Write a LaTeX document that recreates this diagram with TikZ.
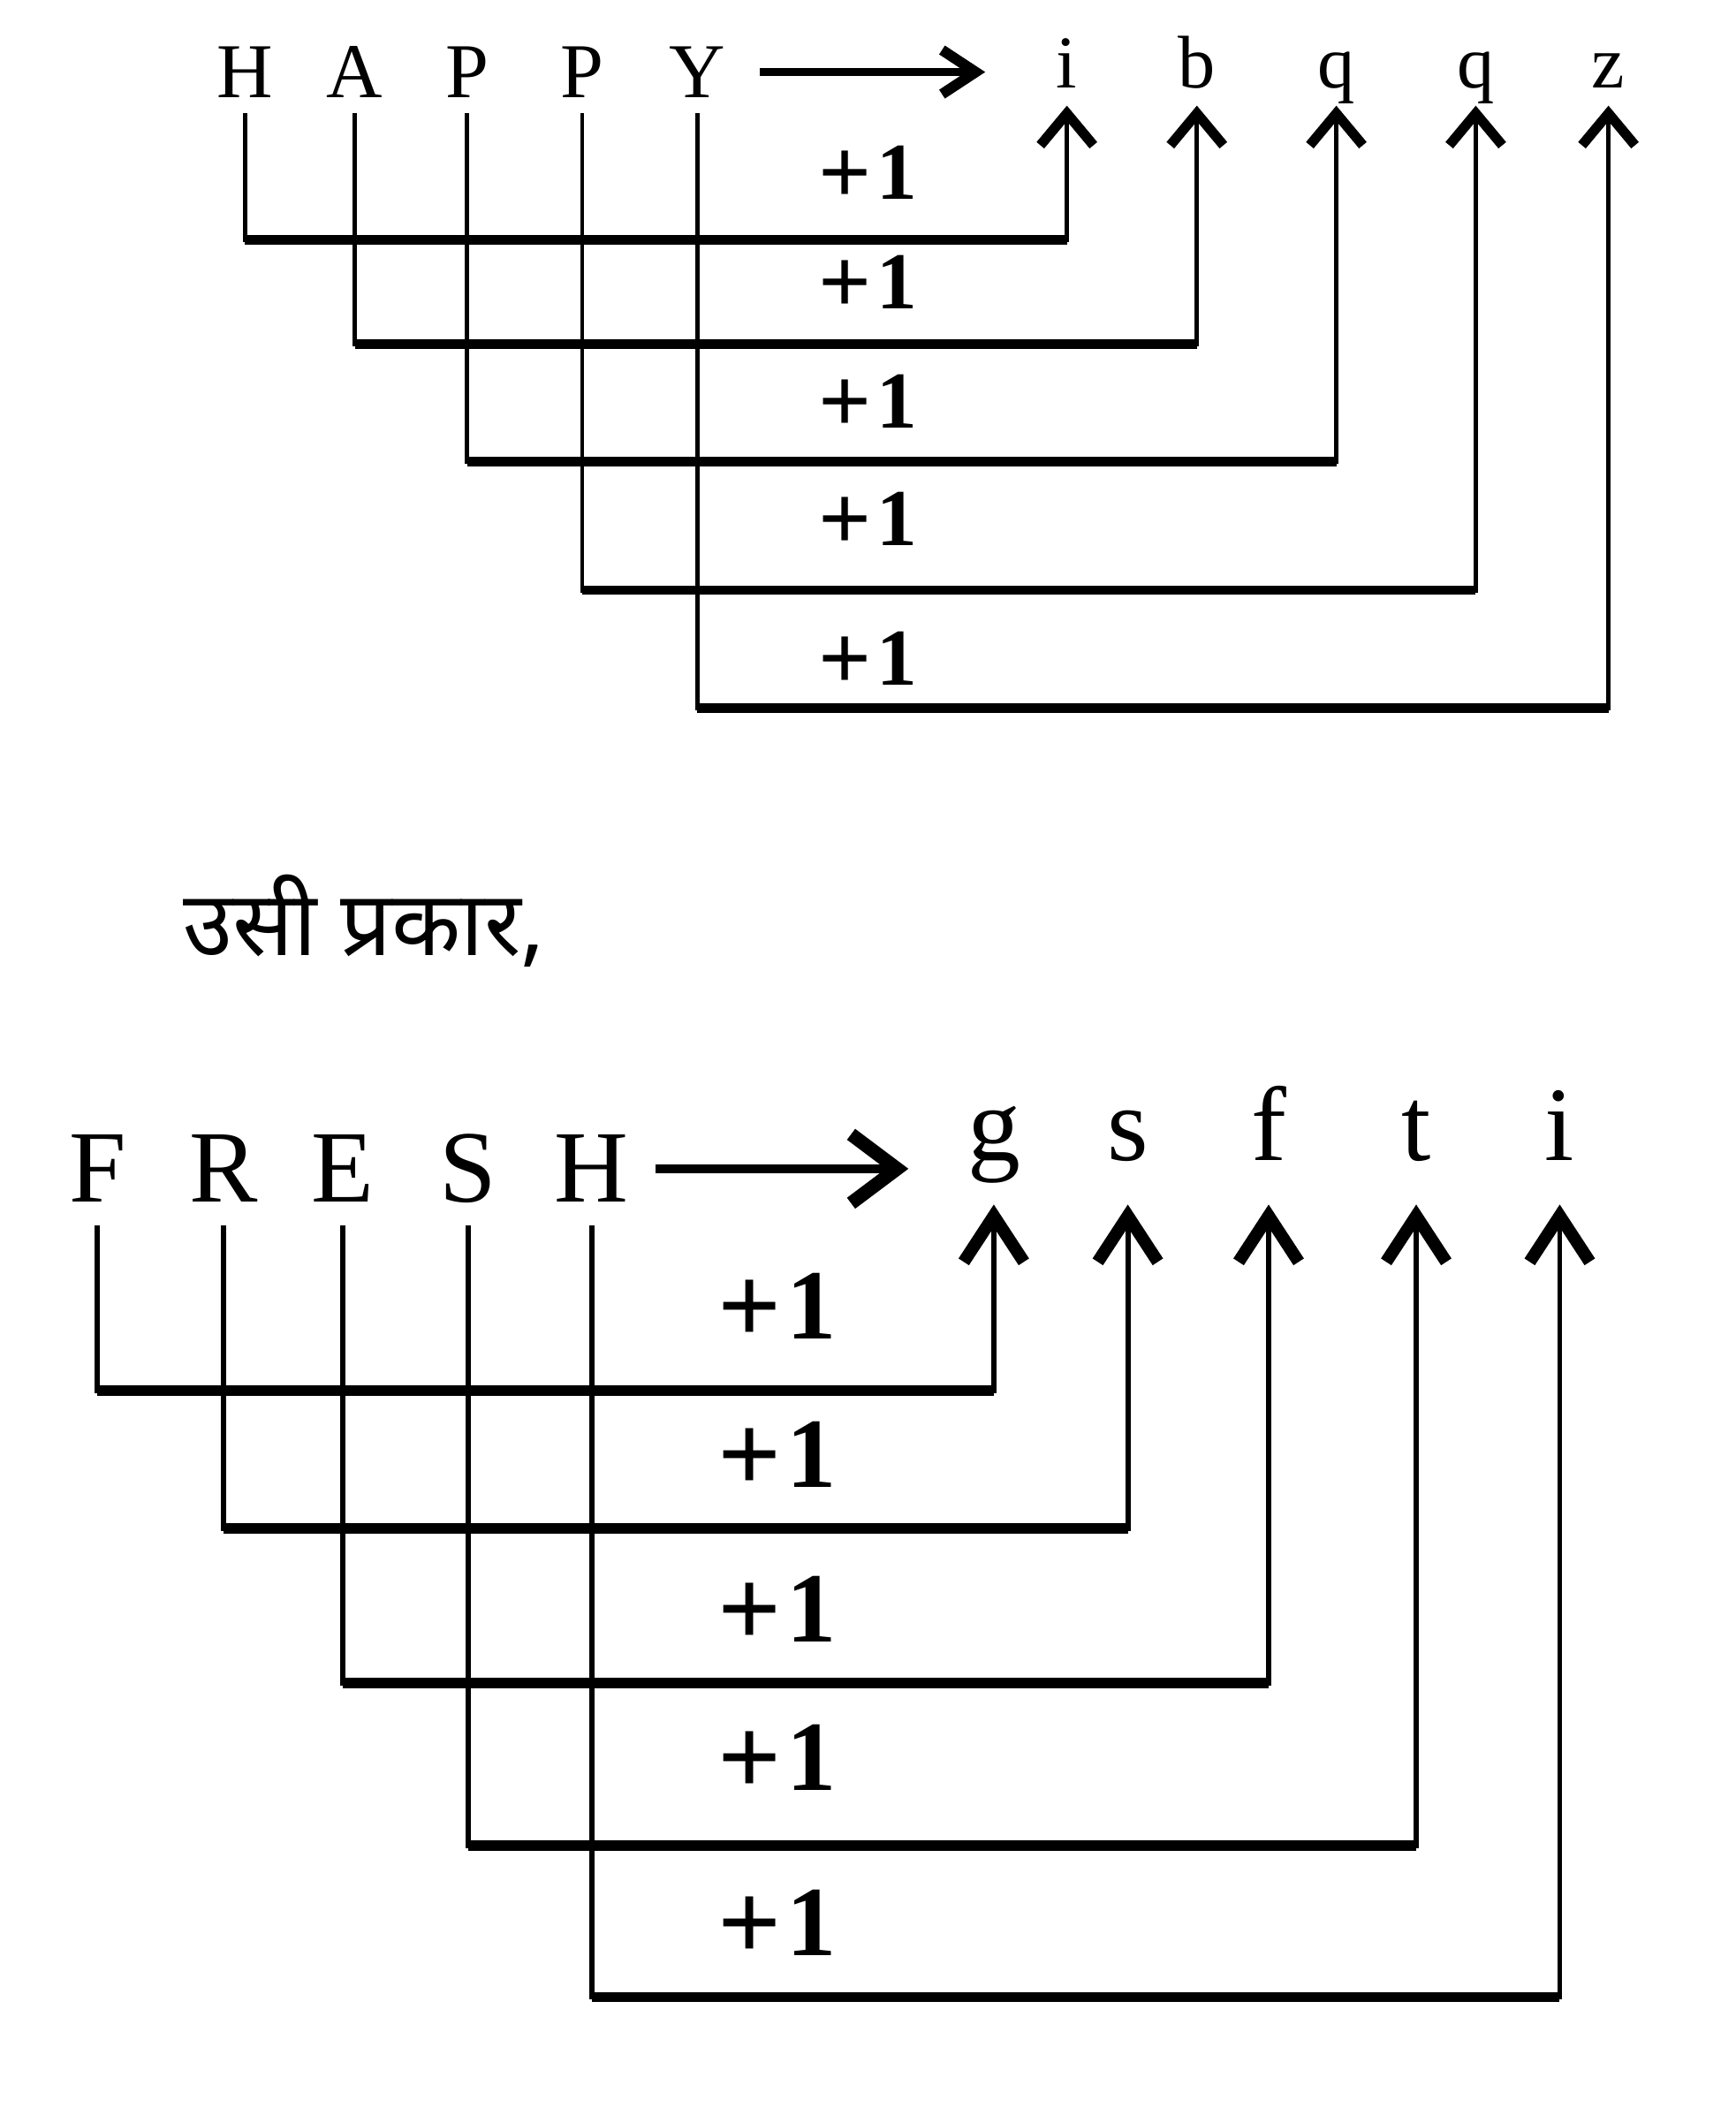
\documentclass[tikz,border=0pt]{standalone}
\usepackage{fontspec}
\setmainfont{Liberation Serif}
\newfontfamily\hindi[Script=Devanagari]{Noto Sans}
\usetikzlibrary{arrows.meta}
\newcommand{\plusone}[2]{\raisebox{-0.14em}{\fontsize{#1}{#1}\selectfont +}\kern0.15em{\fontsize{#2}{#2}\selectfont 1}}
\begin{document}
\begin{tikzpicture}[x=0.01532cm,y=-0.01532cm,
  capA/.style={inner sep=0pt, anchor=base, font=\fontsize{25}{25}\selectfont},
  lowA/.style={inner sep=0pt, anchor=base, font=\fontsize{24}{24}\selectfont},
  capB/.style={inner sep=0pt, anchor=base, font=\fontsize{33}{33}\selectfont},
  lowB/.style={inner sep=0pt, anchor=base, font=\fontsize{34}{34}\selectfont},
  plusA/.style={inner sep=0pt, font=\bfseries},
  plusB/.style={inner sep=0pt, font=\bfseries},
  connA/.style={line width=1.4pt, -{Straight Barb[length=0.36cm,width=0.6cm,line width=3.2pt]}},
  connB/.style={line width=1.7pt, -{Straight Barb[length=0.52cm,width=0.68cm,line width=4pt]}},
  hlA/.style={line width=3pt},
  hlB/.style={line width=3.4pt},
  mainA/.style={line width=2.4pt, -{Straight Barb[length=0.38cm,width=0.5cm,line width=3.4pt]}},
  mainB/.style={line width=3pt, -{Straight Barb[length=0.52cm,width=0.78cm,line width=4.4pt]}}
]
\useasboundingbox (0,0) rectangle (1282,1568);

% ---------- top diagram ----------
\node[capA] (h1) at (181,72) {H};
\node[capA] (a1) at (262,72) {A};
\node[capA] (p1) at (345,72) {P};
\node[capA] (p2) at (430,72) {P};
\node[capA] (y1) at (515,72) {Y};

\node[lowA] (i1) at (788,65) {i};
\node[lowA] (b1) at (884,65) {b};
\node[lowA] (q1) at (987,65) {q};
\node[lowA] (q2) at (1090,65) {q};
\node[lowA] (z1) at (1188,65) {z};

\coordinate (ta) at (y1.east -| i1.west);
\draw[mainA] ([xshift=0.38cm]y1.east) -- ([xshift=-0.8cm]ta);

\coordinate (ra1) at (0,177);
\coordinate (ra2) at (0,254);
\coordinate (ra3) at (0,341);
\coordinate (ra4) at (0,436);
\coordinate (ra5) at (0,523);

\foreach \s/\t/\r in {h1/i1/ra1, a1/b1/ra2, p1/q1/ra3, p2/q2/ra4, y1/z1/ra5}{
  \draw[connA] ([yshift=-0.18cm]\s.base) -- (\s.base |- \r) -- (\t.base |- \r) -- ([yshift=-0.2cm]\t.base);
  \draw[hlA] (\s.base |- \r) -- (\t.base |- \r);
}

\node[plusA] (la1) at (641,129) {\plusone{30}{26}};
\node[plusA] (la2) at (641,210) {\plusone{30}{26}};
\node[plusA] (la3) at (641,298) {\plusone{30}{26}};
\node[plusA] (la4) at (641,385) {\plusone{30}{26}};
\node[plusA] (la5) at (641,488) {\plusone{30}{26}};

% ---------- middle text ----------
\node[anchor=west, inner sep=0pt, font=\hindi\fontsize{29}{29}\selectfont] (hi) at (135,680) {उसी प्रकार,};

% ---------- bottom diagram ----------
\node[capB] (f2) at (72,888) {F};
\node[capB] (r2) at (165,888) {R};
\node[capB] (e2) at (253,888) {E};
\node[capB] (s2) at (346,888) {S};
\node[capB] (h2) at (437,888) {H};

\node[lowB] (g3) at (734,857) {g};
\node[lowB] (s3) at (833,857) {s};
\node[lowB] (f3) at (937,857) {f};
\node[lowB] (t3) at (1046,857) {t};
\node[lowB] (i3) at (1152,857) {i};

\coordinate (tb) at (h2.east -| g3.west);
\draw[mainB] ([xshift=0.3cm]h2.east) -- ([xshift=-0.66cm]tb);

\coordinate (rb1) at (0,1027);
\coordinate (rb2) at (0,1129);
\coordinate (rb3) at (0,1243);
\coordinate (rb4) at (0,1363);
\coordinate (rb5) at (0,1475);

\foreach \s/\t/\r in {f2/g3/rb1, r2/s3/rb2, e2/f3/rb3, s2/t3/rb4, h2/i3/rb5}{
  \draw[connB] ([yshift=-0.26cm]\s.base) -- (\s.base |- \r) -- (\t.base |- \r) -- ([yshift=-0.5cm]\t.base);
  \draw[hlB] (\s.base |- \r) -- (\t.base |- \r);
}

\node[plusB] (lb1) at (574,966) {\plusone{36}{32}};
\node[plusB] (lb2) at (574,1076) {\plusone{36}{32}};
\node[plusB] (lb3) at (574,1190) {\plusone{36}{32}};
\node[plusB] (lb4) at (574,1300) {\plusone{36}{32}};
\node[plusB] (lb5) at (574,1422) {\plusone{36}{32}};
\end{tikzpicture}
\end{document}
